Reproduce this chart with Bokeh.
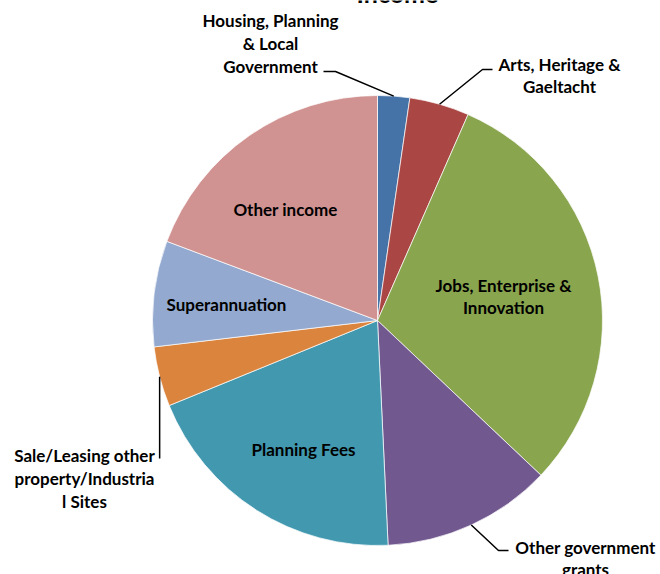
import math
from bokeh.plotting import figure
from bokeh.models import Range1d, ColumnDataSource
from bokeh.core.properties import value
from bokeh.embed import file_html
from bokeh.resources import INLINE

# ---- data ----
categories = [
    "Housing, Planning & Local Government",
    "Arts, Heritage & Gaeltacht",
    "Jobs, Enterprise & Innovation",
    "Other government grants",
    "Planning Fees",
    "Sale/Leasing other property/Industrial Sites",
    "Superannuation",
    "Other income",
]
shares = [2.3, 4.3, 30.5, 12.2, 19.6, 4.3, 7.6, 19.3]
label_texts = [
    "Housing, Planning\n& Local\nGovernment",
    "Arts, Heritage &\nGaeltacht",
    "Jobs, Enterprise &\nInnovation",
    "Other government\ngrants",
    "Planning Fees",
    "Sale/Leasing other\nproperty/Industria\nl Sites",
    "Superannuation",
    "Other income",
]
colors = ["#4572A7", "#AA4643", "#89A54E", "#71588F",
          "#4198AF", "#DB843D", "#93A9CF", "#D19392"]
title_text = "Income"

# ---- layout (pixel-like coordinates, y up) ----
W, H = 660, 574
CX, CY, R = 377, 254, 225
label_pos = [(270, 531), (559, 499), (503, 278), (585, 16),
             (303, 125), (84, 96), (226, 270), (285, 365)]
# leader elbows/ends for outside labels: index -> points after the anchor
leaders = {
    0: [(335, 503), (323, 503)],
    1: [(482, 505), (492, 505)],
    3: [(498, 24), (508, 24)],
    5: [(None, 116)],
}

total = sum(shares)
starts, ends, mids = [], [], []
acc = 0.0
for s in shares:
    a0 = math.pi / 2 - acc / total * 2 * math.pi
    acc += s
    a1 = math.pi / 2 - acc / total * 2 * math.pi
    starts.append(a0)
    ends.append(a1)
    mids.append((a0 + a1) / 2)

src = ColumnDataSource(dict(cat=categories, share=shares, start=starts,
                            end=ends, color=colors))

p = figure(width=W, height=H, output_backend="svg", toolbar_location=None,
           x_range=Range1d(0, W), y_range=Range1d(0, H),
           min_border=0, outline_line_color=None)
p.axis.visible = False
p.grid.visible = False

p.wedge(x=CX, y=CY, radius=R, start_angle="start", end_angle="end",
        direction="clock", fill_color="color", line_color="white",
        line_width=0.7, source=src)

# leader lines
for i, pts in leaders.items():
    ax = CX + R * math.cos(mids[i])
    ay = CY + R * math.sin(mids[i])
    xs, ys = [ax], [ay]
    for (x, y) in pts:
        xs.append(ax if x is None else x)
        ys.append(y)
    p.line(xs, ys, line_color="black", line_width=1.5)

p.text(x=[lp[0] for lp in label_pos], y=[lp[1] for lp in label_pos],
       text=label_texts, text_font=value("Lato"), text_font_style="bold",
       text_font_size="17px", text_align="center", text_baseline="middle",
       text_line_height=1.08, text_color="black")

p.text(x=[397], y=[582], text=[title_text], text_font=value("Lato"),
       text_font_style="bold", text_font_size="25px", text_align="center",
       text_baseline="alphabetic", text_color="black")

open("out.html", "w").write(file_html(p, INLINE))
